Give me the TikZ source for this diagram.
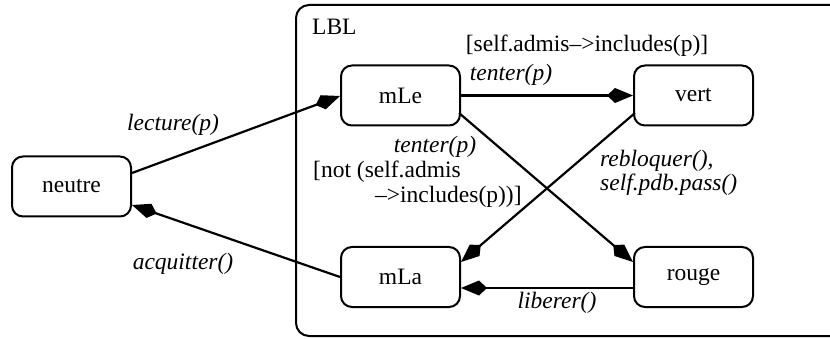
\documentclass[tikz,border=0pt]{standalone}
\usepackage{fontspec}
\setmainfont{Liberation Serif}
\usetikzlibrary{arrows.meta}
\begin{document}
\begin{tikzpicture}[x=1pt,y=-1pt,
  state/.style={draw,line width=2pt,rounded corners=11pt,minimum width=119pt,minimum height=60pt,inner sep=0pt,font=\rmfamily\fontsize{23.5}{28}\selectfont},
  lbl/.style={inner sep=0pt,font=\rmfamily\fontsize{23.5}{28}\selectfont\itshape},
  txt/.style={inner sep=0pt,font=\rmfamily\fontsize{23.5}{28}\selectfont},
  tr/.style={line width=2.2pt,-{Kite[length=26pt,width=15pt,inset=8pt]}}]
\useasboundingbox (0,0) rectangle (830,339);
\begin{scope}
\clip (0,0) rectangle (830,339);
\draw[line width=2pt,rounded corners=13pt] (296,5) rectangle (880,336);
\end{scope}
\node[txt,anchor=west] (lblname) at (312,27) {LBL};
\node[state] (neutre) at (71.5,186.5) {neutre};
\node[state] (mLe) at (400.5,95.5) {mLe};
\node[state] (vert) at (693.5,95.5) {vert};
\node[state] (mLa) at (400.5,277) {mLa};
\node[state] (rouge) at (693.5,277) {rouge};
\draw[tr] (neutre.east |- 0,173) -- (mLe.west |- 0,96);
\draw[tr] (mLa.west) -- (neutre.east |- 0,205);
\draw[tr] (mLe) -- (vert);
\draw[tr] (mLe.south east |- 0,113) ++(-2,0) coordinate (a1) -- (rouge.north west |- 0,262);
\draw[tr] (vert.south west |- 0,113) ++(2,0) -- (mLa.north east |- 0,262);
\draw[tr] (rouge.west |- 0,288) -- (mLa.east |- 0,288);
\node[lbl] (l1) at (173,125) {lecture(p)};
\node[lbl] (l2) at (183,264) {acquitter()};
\node[txt] (g1) at (587,46) {[self.admis\textendash>includes(p)]};
\node[lbl] (l3) at (511,75) {tenter(p)};
\node[lbl] (l4) at (435,147) {tenter(p)};
\node[txt,anchor=west] (g2) at (313,172) {[not (self.admis};
\node[txt,anchor=west] (g3) at (375,197) {\textendash>includes(p))]};
\node[lbl,anchor=west] (l5) at (600,161) {rebloquer(),};
\node[lbl,anchor=west] (l6) at (600,185) {self.pdb.pass()};
\node[lbl] (l7) at (557,303) {liberer()};
\end{tikzpicture}
\end{document}
